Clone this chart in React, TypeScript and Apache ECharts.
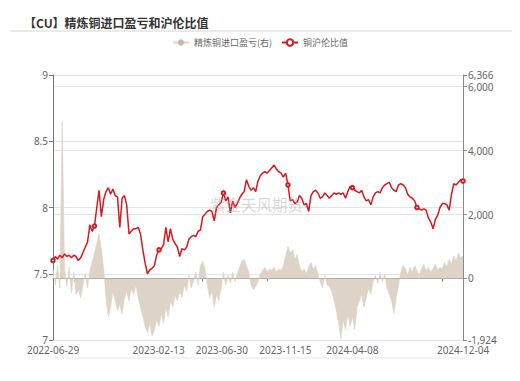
import React, { useEffect, useRef } from "react";
import * as echarts from "echarts";

const START_DATE = "2022-06-29";
const END_DATE = "2024-12-04";
const LABEL_DATES = ["2022-06-29", "2023-02-13", "2023-06-30", "2023-11-15", "2024-04-08", "2024-12-04"];
const TICK_DATES = ["2022-08-13", "2023-05-18", "2023-10-06", "2024-02-19", "2024-10-20"];
const SYMBOL_INDICES = [0, 18, 46, 74, 102, 130, 158, 178];

// 铜沪伦比值 (left axis)
const ratioValues = [
  7.60, 7.63, 7.61, 7.64, 7.62, 7.65, 7.63, 7.64, 7.62, 7.64,
  7.63, 7.60, 7.62, 7.66, 7.70, 7.74, 7.87, 7.82, 7.86, 8.00,
  8.13, 7.93, 8.06, 8.12, 8.15, 8.10, 8.14, 8.09, 8.08, 7.85,
  8.07, 8.09, 8.02, 7.80, 7.82, 7.84, 7.84, 7.85, 7.80, 7.68,
  7.58, 7.50, 7.53, 7.54, 7.56, 7.64, 7.68, 7.69, 7.72, 7.85,
  7.74, 7.84, 7.76, 7.73, 7.70, 7.63, 7.69, 7.68, 7.70, 7.76,
  7.78, 7.79, 7.78, 7.82, 7.83, 7.93, 7.95, 7.97, 7.98, 7.97,
  7.90, 8.00, 8.02, 8.04, 8.11, 8.05, 8.08, 7.96, 8.05, 8.00,
  8.03, 8.07, 8.10, 8.12, 8.21, 8.16, 8.13, 8.15, 8.12, 8.20,
  8.24, 8.26, 8.27, 8.26, 8.28, 8.30, 8.32, 8.29, 8.27, 8.26,
  8.23, 8.26, 8.17, 8.05, 8.06, 8.03, 8.04, 8.09, 8.07, 8.02,
  8.03, 7.97, 8.09, 8.12, 8.13, 8.11, 8.07, 8.08, 8.11, 8.09,
  8.07, 8.09, 8.11, 8.10, 8.11, 8.10, 8.11, 8.07, 8.12, 8.16,
  8.15, 8.13, 8.12, 8.11, 8.13, 8.08, 8.05, 8.06, 8.02, 8.08,
  8.11, 8.12, 8.11, 8.15, 8.17, 8.18, 8.19, 8.15, 8.13, 8.12,
  8.17, 8.18, 8.17, 8.15, 8.10, 8.08, 8.07, 8.05, 8.00, 7.99,
  7.98, 7.99, 7.98, 7.92, 7.89, 7.84, 7.91, 7.94, 8.00, 8.03,
  8.03, 8.02, 7.98, 8.10, 8.18, 8.17, 8.19, 8.21, 8.20,
];

// 精炼铜进口盈亏 (right axis)
const profitValues = [
  300, -200, 400, -300, 4900, 300, -250, 350, -450, 200,
  -500, -350, -600, -200, 150, -300, 250, 500, 800, 1100,
  1400, 900, 300, -600, -1200, -900, -400, -700, -1000, -800,
  -1100, -600, -400, -700, -300, -500, -200, -600, -900, -1200,
  -1500, -1700, -1400, -1800, -1600, -1300, -1500, -1100, -1400, -900,
  -1200, -700, -900, -500, -700, -400, -600, -200, -400, 100,
  -300, -100, 200, -200, 400, 550, 300, -200, -600, -400,
  -900, -500, -700, -300, 200, -200, 100, -150, 200, -100,
  150, 350, 550, 600, 400, 200, -200, -350, -250, -100,
  150, 250, 350, 200, 300, 250, 350, 200, 300, 250,
  400, 700, 1000, 800, 900, 600, 750, 400, 200, 300,
  150, 350, 500, 300, 400, 150, -100, -300, 100, -200,
  -250, -400, -700, -1000, -1400, -1900, -1300, -1600, -1100, -1500,
  -1200, -1600, -900, -700, -500, -900, -600, -300, -500, -100,
  100, -150, 200, -100, 150, -300, -500, -700, -1100, -600,
  -200, 200, 400, 300, 100, 350, 200, 400, 250, 100,
  300, 450, 250, 350, 200, 300, 450, 250, 350, 300,
  500, 350, 600, 450, 700, 550, 800, 650, 700,
];

const RIGHT_MIN = -1924;
const RIGHT_MAX = 6366;

function toTs(s: string): number {
  const [y, m, d] = s.split("-").map(Number);
  return new Date(y, m - 1, d).getTime();
}

export default function App() {
  const ref = useRef<HTMLDivElement>(null);
  useEffect(() => {
    document.body.style.margin = "0";
    if (!ref.current) return;
    const chart = echarts.init(ref.current, undefined, { renderer: "svg" });
    const t0 = toTs(START_DATE);
    const t1 = toTs(END_DATE);
    const n = ratioValues.length;
    const times = ratioValues.map((_, i) => t0 + ((t1 - t0) * i) / (n - 1));
    const ratioData = ratioValues.map((v, i) =>
      SYMBOL_INDICES.includes(i) ? { value: [times[i], v] } : { value: [times[i], v], symbol: "none" }
    );
    const profitData = profitValues.map((v, i) => [times[i], v]);
    const font = "'Noto Sans', 'Noto Sans CJK SC', sans-serif";

    chart.setOption({
      animation: false,
      textStyle: { fontFamily: font },
      title: {
        text: "【CU】精炼铜进口盈亏和沪伦比值",
        left: 19,
        top: 11,
        textStyle: { fontSize: 12, fontWeight: "bold", color: "#333", fontFamily: "'Noto Sans CJK SC', sans-serif" },
      },
      legend: {
        top: 33,
        left: "center",
        itemWidth: 16,
        itemHeight: 8,
        itemGap: 9,
        textStyle: { fontSize: 9, color: "#666", fontFamily: "'Noto Sans CJK SC', sans-serif" },
        data: ["精炼铜进口盈亏(右)", "铜沪伦比值"],
      },
      graphic: [
        { type: "line", shape: { x1: 10, y1: 31, x2: 512, y2: 31 }, style: { stroke: "#d4d4d4", lineWidth: 1 } },
        { type: "line", shape: { x1: 55, y1: 358, x2: 465, y2: 358 }, style: { stroke: "#e2e6ee", lineWidth: 1 } },
        {
          type: "text",
          left: 210,
          top: 196,
          z: 100,
          style: {
            text: "紫金天风期货",
            fontSize: 15.5,
            fill: "rgba(170,170,170,0.45)",
            fontFamily: "'Noto Sans CJK SC', sans-serif",
          },
        },
      ],
      grid: { left: 53, right: 57, top: 75, bottom: 41 },
      xAxis: [
        {
          type: "time",
          min: t0,
          max: t1,
          axisLine: { show: false, onZero: false },
          axisTick: { show: false },
          splitLine: { show: false },
          axisLabel: {
            customValues: LABEL_DATES.map(toTs),
            formatter: "{yyyy}-{MM}-{dd}",
            fontSize: 10,
            color: "#666",
            margin: 5,
          },
        },
        {
          type: "time",
          min: t0,
          max: t1,
          position: "top",
          axisLine: { show: true, onZero: true, onZeroAxisIndex: 1, lineStyle: { color: "#888", width: 1 } },
          axisTick: { show: true, inside: true, length: 3, customValues: TICK_DATES.map(toTs), lineStyle: { color: "#888" } },
          axisLabel: { show: false },
          splitLine: { show: false },
        },
      ],
      yAxis: [
        {
          type: "value",
          min: 7,
          max: 9,
          interval: 0.5,
          axisLine: { show: true, lineStyle: { color: "#777" } },
          axisTick: { show: true, length: 4, lineStyle: { color: "#777" } },
          axisLabel: { fontSize: 10, color: "#666", margin: 5 },
          splitLine: { lineStyle: { color: "#e3e3e3" } },
        },
        {
          type: "value",
          min: RIGHT_MIN,
          max: RIGHT_MAX,
          axisLine: { show: true, lineStyle: { color: "#888" } },
          axisTick: { show: true, length: 4, lineStyle: { color: "#888" } },
          axisLabel: { fontSize: 10, color: "#666", margin: 5 },
          splitLine: { lineStyle: { color: "#e3e3e3" } },
        },
      ],
      series: [
        {
          name: "精炼铜进口盈亏(右)",
          type: "line",
          xAxisIndex: 0,
          yAxisIndex: 1,
          data: profitData,
          symbol: "circle",
          symbolSize: 6,
          showSymbol: false,
          itemStyle: { color: "#c9b9a3" },
          lineStyle: { width: 0.6, color: "#dcd2c4" },
          areaStyle: { color: "#ddd4c7", opacity: 1 },
          z: 1,
        },
        {
          name: "铜沪伦比值",
          type: "line",
          xAxisIndex: 0,
          yAxisIndex: 0,
          data: ratioData,
          symbol: "emptyCircle",
          symbolSize: 3.5,
          showSymbol: true,
          showAllSymbol: true,
          itemStyle: { color: "#d7191f", borderWidth: 1 },
          lineStyle: { width: 1.5, color: "#d7191f" },
          z: 3,
        },
      ],
    });
    return () => chart.dispose();
  }, []);
  return <div ref={ref} style={{ width: 520, height: 381 }} />;
}
